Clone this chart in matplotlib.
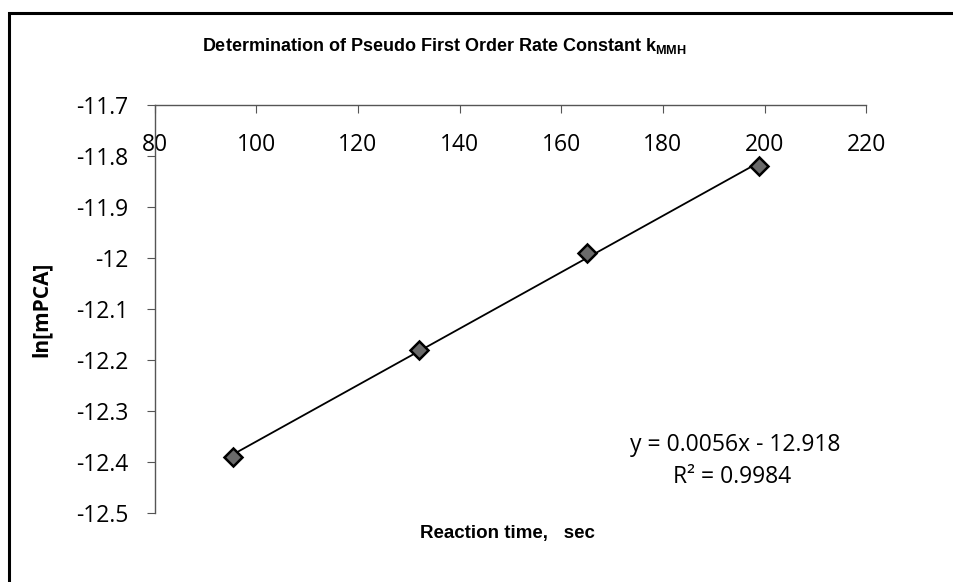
import numpy as np
import matplotlib
matplotlib.use('Agg')
import matplotlib.pyplot as plt
from matplotlib.patches import Rectangle

plt.rcParams['mathtext.fontset'] = 'custom'
plt.rcParams['mathtext.rm'] = 'Liberation Sans:bold'

# data
reaction_time = [95.5, 132, 165, 199]
ln_mpca = [-12.39, -12.18, -11.99, -11.82]
x_ticks = [80, 100, 120, 140, 160, 180, 200, 220]
y_ticks = [-11.7, -11.8, -11.9, -12.0, -12.1, -12.2, -12.3, -12.4, -12.5]
y_tick_labels = ['-11.7', '-11.8', '-11.9', '-12', '-12.1', '-12.2', '-12.3', '-12.4', '-12.5']
equation = 'y = 0.0056x - 12.918'
r_squared = 'R² = 0.9984'

fig = plt.figure(figsize=(9.54, 5.82), dpi=100)
ax = fig.add_axes([0.162, 0.1186, 0.746, 0.701])

# linear trendline
coef = np.polyfit(reaction_time, ln_mpca, 1)
xs = np.array([min(reaction_time), max(reaction_time)])
ax.plot(xs, np.polyval(coef, xs), color='black', lw=1.3, zorder=2)
ax.plot(reaction_time, ln_mpca, linestyle='none', marker='D', markersize=9,
        markerfacecolor='#6a6a6a', markeredgecolor='black', markeredgewidth=1.8, zorder=3)

ax.set_xlim(80, 220)
ax.set_ylim(-12.5, -11.7)
ax.set_xticks(x_ticks)
ax.set_yticks(y_ticks)
ax.set_yticklabels(y_tick_labels)

# x axis crosses at the top (y = -11.7), labels sit below it
ax.spines['bottom'].set_position(('data', -11.7))
ax.spines['top'].set_visible(False)
ax.spines['right'].set_visible(False)
for s in ['bottom', 'left']:
    ax.spines[s].set_color('#555555')
    ax.spines[s].set_linewidth(1.0)
ax.tick_params(axis='x', direction='out', length=6, color='#555555', pad=14,
               labelsize=16.5)
ax.tick_params(axis='y', direction='out', length=6, color='#555555', pad=13,
               labelsize=16.5)
for lbl in ax.get_xticklabels() + ax.get_yticklabels():
    lbl.set_fontfamily('Open Sans')

ax.set_ylabel('ln[mPCA]', fontsize=15, fontweight='bold', fontfamily='Open Sans')
ax.yaxis.set_label_coords(-0.145, 0.5)

fig.text(0.466, 0.921, r'Determination of Pseudo First Order Rate Constant k$_{\rm MMH}$',
         ha='center', va='center', fontsize=13, fontweight='bold',
         fontfamily='Liberation Sans')
fig.text(0.532, 0.084, 'Reaction time,   sec', ha='center', va='center',
         fontsize=13.5, fontweight='bold', fontfamily='Liberation Sans')

fig.text(0.771, 0.236, equation, ha='center', va='center', fontsize=16.5,
         fontfamily='Open Sans')
fig.text(0.767, 0.18, r_squared, ha='center', va='center',
         fontsize=16.5, fontfamily='Open Sans')

# chart border from the scan
fig.add_artist(Rectangle((9 / 954, -0.05), 1.2, 1 - 13 / 582 + 0.05,
                         transform=fig.transFigure, fill=False,
                         edgecolor='black', lw=2.2))

fig.savefig('out.png', dpi=100)
